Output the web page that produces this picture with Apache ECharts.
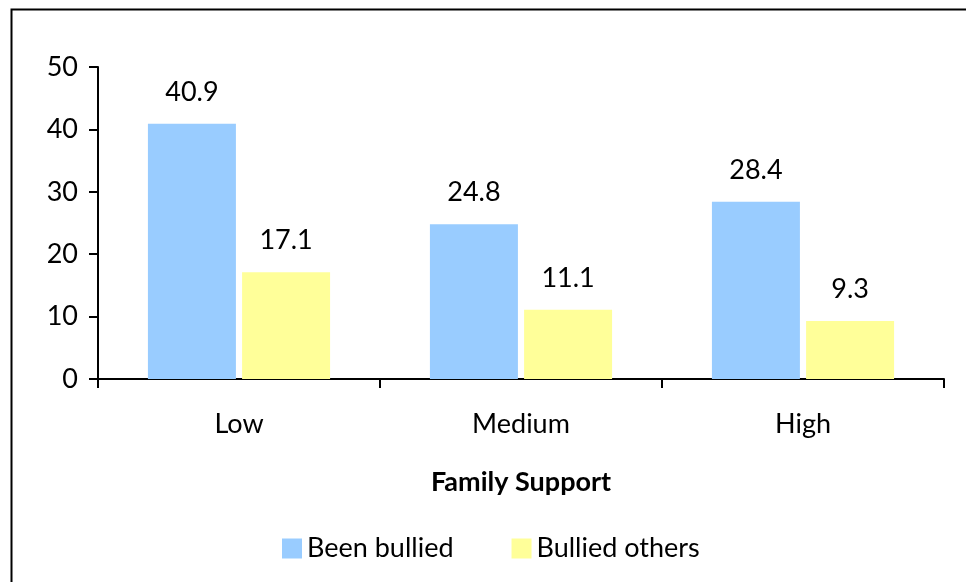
<!DOCTYPE html>
<html>
<head>
<meta charset="utf-8">
<script src="https://cdn.jsdelivr.net/npm/echarts@6/dist/echarts.min.js"></script>
<style>
html,body{margin:0;padding:0;background:#fff;}
#chart{width:966px;height:582px;}
</style>
</head>
<body>
<div id="chart"></div>
<script>
const categories = ['Low', 'Medium', 'High'];
const beenBullied = [40.9, 24.8, 28.4];
const bulliedOthers = [17.1, 11.1, 9.3];
const seriesNames = ['Been bullied', 'Bullied others'];
const axisTitle = 'Family Support';

const FONT = 'Lato';
const FS = 27;
const chart = echarts.init(document.getElementById('chart'), null, {renderer: 'canvas'});
const labelStyle = {show: true, position: 'top', distance: 18, color: '#000', fontFamily: FONT, fontSize: FS,
  formatter: p => p.value.toFixed(1)};
chart.setOption({
  animation: false,
  backgroundColor: '#fff',
  graphic: [{
    type: 'rect', left: 9, top: 7, z: 100,
    shape: {x: 0, y: 0, width: 1100, height: 1100},
    style: {fill: 'none', stroke: '#000', lineWidth: 2}
  }],
  grid: {left: 98, right: 22, top: 67, bottom: 203, containLabel: false},
  legend: {
    data: seriesNames,
    left: 277, top: 530,
    icon: 'rect', itemWidth: 20, itemHeight: 20, itemGap: 58,
    textStyle: {color: '#000', fontFamily: FONT, fontSize: FS}
  },
  xAxis: {
    type: 'category', data: categories,
    name: axisTitle, nameLocation: 'middle', nameGap: 90,
    nameTextStyle: {color: '#000', fontFamily: FONT, fontSize: FS, fontWeight: 'bold'},
    axisLine: {lineStyle: {color: '#000', width: 2}},
    axisTick: {show: true, length: 9, lineStyle: {color: '#000', width: 2}},
    axisLabel: {color: '#000', fontFamily: FONT, fontSize: FS, margin: 32}
  },
  yAxis: {
    type: 'value', min: 0, max: 50, interval: 10,
    axisLine: {show: true, lineStyle: {color: '#000', width: 2}},
    axisTick: {show: true, length: 9, lineStyle: {color: '#000', width: 2}},
    splitLine: {show: false},
    axisLabel: {color: '#000', fontFamily: FONT, fontSize: FS, margin: 20}
  },
  series: [
    {name: seriesNames[0], type: 'bar', data: beenBullied, barWidth: 88, barGap: '7%',
     itemStyle: {color: '#99CCFF'}, label: labelStyle},
    {name: seriesNames[1], type: 'bar', data: bulliedOthers, barWidth: 88,
     itemStyle: {color: '#FFFF99'}, label: labelStyle}
  ]
});
</script>
</body>
</html>
